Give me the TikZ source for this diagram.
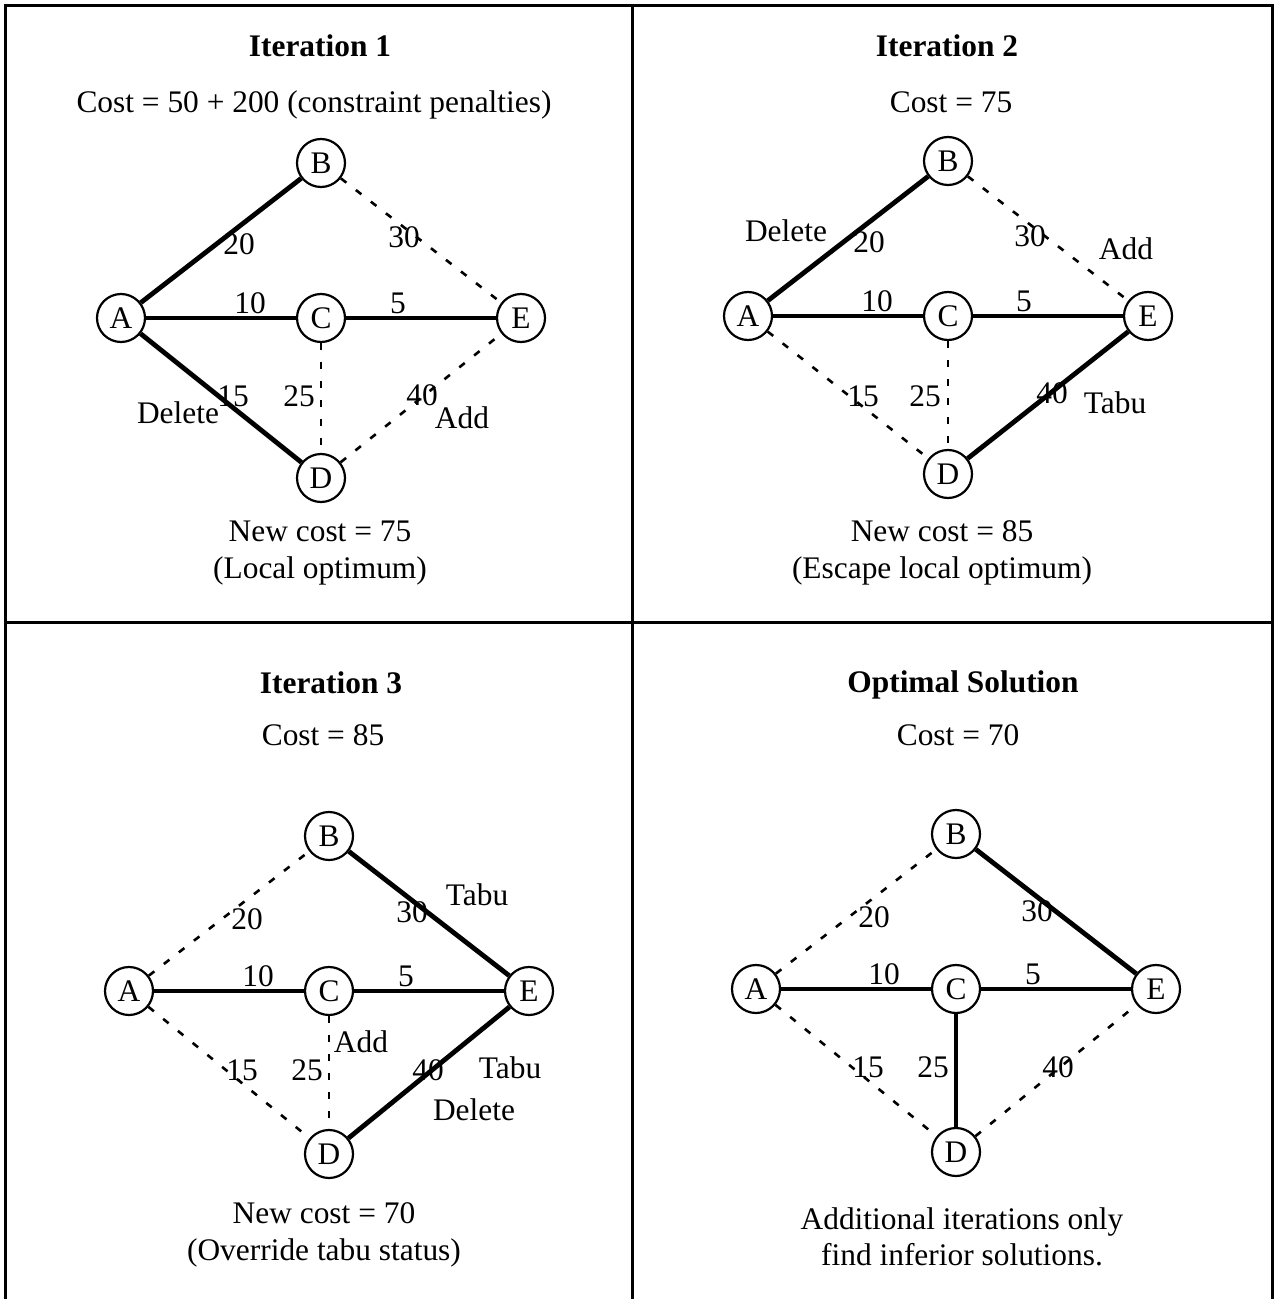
\documentclass[tikz,border=0pt]{standalone}
\usepackage{fontspec}
\setmainfont{Liberation Serif}
\usetikzlibrary{positioning}

\begin{document}
\begin{tikzpicture}[
    x=0.5pt, y=-0.5pt,
    font=\fontsize{15.7}{18.2}\selectfont,
    on grid,
    vert/.style={draw, circle, line width=1.1pt, minimum size=24pt, inner sep=0pt, fill=white},
    tree/.style={line width=2.4pt},
    free/.style={line width=1.3pt, dash pattern=on 3.5pt off 6pt},
    lbl/.style={inner sep=0pt},
    ttl/.style={inner sep=0pt, font=\fontsize{15.7}{18.2}\selectfont\bfseries},
    note/.style={inner sep=0pt, align=center},
    frame/.style={line width=1.5pt},
]
\useasboundingbox (0,0) rectangle (1274,1299);

% frame and dividers
\draw[frame] (5.5,1299) |- (1272.5,6) -- (1272.5,1299);
\draw[frame] (632,6) -- (632,1299);
\draw[frame] (5.5,622) -- (1272.5,622);

% ---- Iteration 1
\begin{scope}[shift={(321,318)}]
\node[vert] (C1) at (0,0) {C};
\node[vert, left=100pt of C1] (A1) {A};
\node[vert, right=100pt of C1] (E1) {E};
\node[vert, above=77.5pt of C1] (B1) {B};
\node[vert, below=80pt of C1] (D1) {D};
\node[ttl] (t1) at (-1,-272) {Iteration 1};
\node[note] (c1) at (-7,-213) {Cost = 50 + 200 (constraint penalties)};
\node[note] (n1) at (-1,235) {New cost = 75\\(Local optimum)};
\draw[tree] (A1) -- (B1);
\draw[free] (B1) -- (E1);
\draw[tree] (A1) -- (C1);
\draw[tree] (C1) -- (E1);
\draw[tree] (A1) -- (D1);
\draw[free] (C1) -- (D1);
\draw[free] (D1) -- (E1);
\node[lbl] (w1ab) at (-82,-74) {20};
\node[lbl] (w1be) at (83,-81) {30};
\node[lbl] (w1ac) at (-71,-15) {10};
\node[lbl] (w1ce) at (77,-15) {5};
\node[lbl] (w1ad) at (-88,78) {15};
\node[lbl] (w1cd) at (-22,78) {25};
\node[lbl] (w1de) at (101,77) {40};
\node[lbl] (m1del) at (-143,95) {Delete};
\node[lbl] (m1add) at (141,100) {Add};
\end{scope}

% ---- Iteration 2
\begin{scope}[shift={(948,316)}]
\node[vert] (C2) at (0,0) {C};
\node[vert, left=100pt of C2] (A2) {A};
\node[vert, right=100pt of C2] (E2) {E};
\node[vert, above=77.5pt of C2] (B2) {B};
\node[vert, below=79pt of C2] (D2) {D};
\node[ttl] (t2) at (-1,-270) {Iteration 2};
\node[note] (c2) at (3,-214) {Cost = 75};
\node[note] (n2) at (-6,237) {New cost = 85\\(Escape local optimum)};
\draw[tree] (A2) -- (B2);
\draw[free] (B2) -- (E2);
\draw[tree] (A2) -- (C2);
\draw[tree] (C2) -- (E2);
\draw[free] (A2) -- (D2);
\draw[free] (C2) -- (D2);
\draw[tree] (D2) -- (E2);
\node[lbl] (w2ab) at (-79,-74) {20};
\node[lbl] (w2be) at (82,-80) {30};
\node[lbl] (w2ac) at (-71,-15) {10};
\node[lbl] (w2ce) at (76,-15) {5};
\node[lbl] (w2ad) at (-85,80) {15};
\node[lbl] (w2cd) at (-23,80) {25};
\node[lbl] (w2de) at (104,77) {40};
\node[lbl] (m2del) at (-162,-85) {Delete};
\node[lbl] (m2add) at (178,-67) {Add};
\node[lbl] (m2tabu) at (167,87) {Tabu};
\end{scope}

% ---- Iteration 3
\begin{scope}[shift={(329,991)}]
\node[vert] (C3) at (0,0) {C};
\node[vert, left=100pt of C3] (A3) {A};
\node[vert, right=100pt of C3] (E3) {E};
\node[vert, above=77.5pt of C3] (B3) {B};
\node[vert, below=81.5pt of C3] (D3) {D};
\node[ttl] (t3) at (2,-308) {Iteration 3};
\node[note] (c3) at (-6,-256) {Cost = 85};
\node[note] (n3) at (-5,244) {New cost = 70\\(Override tabu status)};
\draw[free] (A3) -- (B3);
\draw[tree] (B3) -- (E3);
\draw[tree] (A3) -- (C3);
\draw[tree] (C3) -- (E3);
\draw[free] (A3) -- (D3);
\draw[free] (C3) -- (D3);
\draw[tree] (D3) -- (E3);
\node[lbl] (w3ab) at (-82,-72) {20};
\node[lbl] (w3be) at (83,-79) {30};
\node[lbl] (w3ac) at (-71,-15) {10};
\node[lbl] (w3ce) at (77,-15) {5};
\node[lbl] (w3ad) at (-87,79) {15};
\node[lbl] (w3cd) at (-22,79) {25};
\node[lbl] (w3de) at (99,79) {40};
\node[lbl] (m3tabu) at (148,-96) {Tabu};
\node[lbl] (m3add) at (32,51) {Add};
\node[lbl] (m3tabub) at (181,77) {Tabu};
\node[lbl] (m3del) at (145,119) {Delete};
\end{scope}

% ---- Optimal solution
\begin{scope}[shift={(956,989)}]
\node[vert] (C4) at (0,0) {C};
\node[vert, left=100pt of C4] (A4) {A};
\node[vert, right=100pt of C4] (E4) {E};
\node[vert, above=77.5pt of C4] (B4) {B};
\node[vert, below=81.5pt of C4] (D4) {D};
\node[ttl] (t4) at (7,-304) {Optimal Solution};
\node[note] (c4) at (2,-254) {Cost = 70};
\node[note] (n4) at (6,248) {Additional iterations only\\find inferior solutions.};
\draw[free] (A4) -- (B4);
\draw[tree] (B4) -- (E4);
\draw[tree] (A4) -- (C4);
\draw[tree] (C4) -- (E4);
\draw[free] (A4) -- (D4);
\draw[tree] (C4) -- (D4);
\draw[free] (D4) -- (E4);
\node[lbl] (w4ab) at (-82,-72) {20};
\node[lbl] (w4be) at (81,-78) {30};
\node[lbl] (w4ac) at (-72,-15) {10};
\node[lbl] (w4ce) at (77,-15) {5};
\node[lbl] (w4ad) at (-88,78) {15};
\node[lbl] (w4cd) at (-23,78) {25};
\node[lbl] (w4de) at (102,78) {40};
\end{scope}
\end{tikzpicture}
\end{document}
